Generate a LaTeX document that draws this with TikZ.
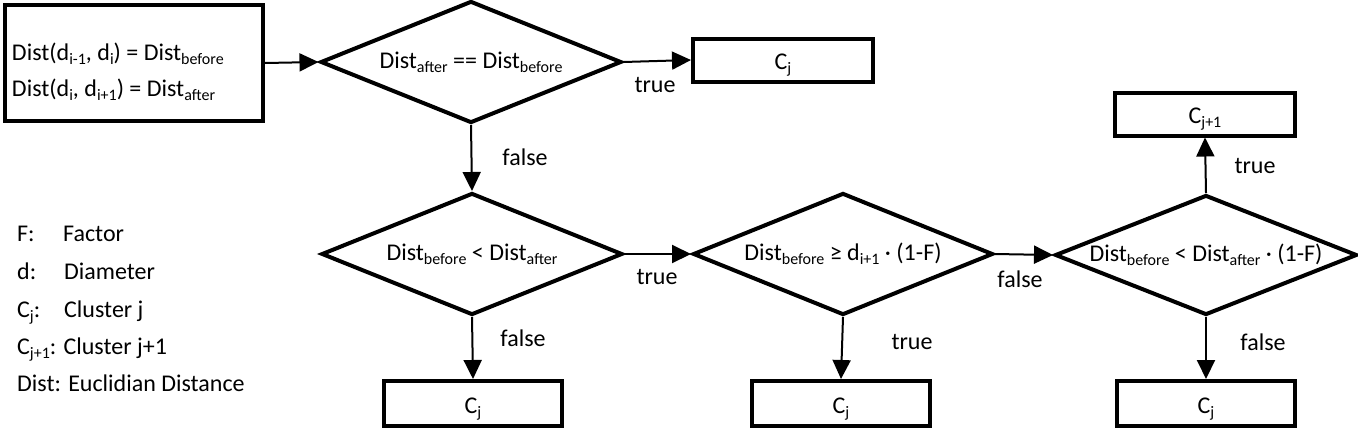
\documentclass[tikz,border=0pt]{standalone}
\usepackage{fontspec}
\setmainfont{Carlito}
\usetikzlibrary{arrows.meta,shapes.geometric}
\newcommand{\sbs}[1]{\raisebox{-0.18em}{\fontsize{16}{16}\selectfont #1}}
\begin{document}
\begin{tikzpicture}[x=1pt,y=-1pt,
  every node/.style={font=\fontsize{24}{29}\selectfont, inner sep=0pt},
  box/.style={draw, line width=4pt, rectangle, minimum width=180pt, minimum height=44pt, text height=19pt, text depth=0pt},
  dec/.style={draw, line width=4pt, diamond, minimum width=301pt, minimum height=122pt},
  conn/.style={line width=2pt, -{Triangle[length=19pt,width=18pt]}},
  leg/.style={anchor=base west}]
\useasboundingbox (0,0) rectangle (1358,429);

% input box
\node[draw, line width=4pt, rectangle, minimum width=258pt, minimum height=116pt,
      text width=244pt, align=flush left, inner xsep=7pt,
      text height=15pt, text depth=21pt,
      font=\fontsize{24}{36}\selectfont] (in) at (134,63)
  {Dist(d\sbs{i-1}, d\sbs{i}) = Dist\sbs{before}\\Dist(d\sbs{i}, d\sbs{i+1}) = Dist\sbs{after}};

% decisions
\node[dec] (d1) at (471,62) {\makebox[0pt]{Dist\sbs{after} == Dist\sbs{before}}};
\node[dec] (d2) at (472,254) {\makebox[0pt]{Dist\sbs{before} < Dist\sbs{after}}};
\node[dec, minimum width=300pt] (d3) at (843,254) {\makebox[0pt]{Dist\sbs{before} ≥ d\sbs{i+1} · (1-F)}};
\node[dec, minimum width=302pt, minimum height=120pt] (d4) at (1206,255) {\makebox[0pt]{Dist\sbs{before} < Dist\sbs{after} · (1-F)}};

% result boxes
\node[box, minimum height=43pt] (c1) at (783,60) {C\sbs{j}};
\node[box, minimum height=43pt] (c2) at (1205,114) {C\sbs{j+1}};
\node[box, minimum width=178pt, minimum height=45pt] (b1) at (473,403.5) {C\sbs{j}};
\node[box, minimum width=178pt, minimum height=45pt] (b2) at (841,403.5) {C\sbs{j}};
\node[box, minimum width=178pt, minimum height=45pt] (b3) at (1206,403.5) {C\sbs{j}};

% connectors
\draw[conn] (in.east) -- (d1.west);
\draw[conn] (d1.east) -- (c1.west);
\draw[conn] (d1.south) -- (d2.north);
\draw[conn] (d2.east) -- (d3.west);
\draw[conn] (d2.south) -- (b1.north);
\draw[conn] (d3.east) -- (d4.west);
\draw[conn] (d3.south) -- (b2.north);
\draw[conn] (d4.north) -- (c2.south);
\draw[conn] (d4.south) -- (b3.north);

% connector labels
\node (t1) at (655,85) {true};
\node (f1) at (525,157) {false};
\node (t2) at (657,277) {true};
\node (f2) at (523,338) {false};
\node (f3) at (1020,279) {false};
\node (t3) at (912,342) {true};
\node (t4) at (1255,166) {true};
\node (f4) at (1263,342) {false};

% legend
\node[leg] (lf) at (17,241) {F:};
\node[leg] (lfd) at (63,241) {Factor};
\node[leg] (ld) at (17,279) {d:};
\node[leg] (ldd) at (64,279) {Diameter};
\node[leg] (lc) at (17,317) {C\sbs{j}:};
\node[leg] (lcd) at (64,317) {Cluster j};
\node[leg] (lc1) at (17,354) {C\sbs{j+1}: Cluster j+1};
\node[leg] (ldist) at (17,391) {Dist: Euclidian Distance};
\end{tikzpicture}
\end{document}
